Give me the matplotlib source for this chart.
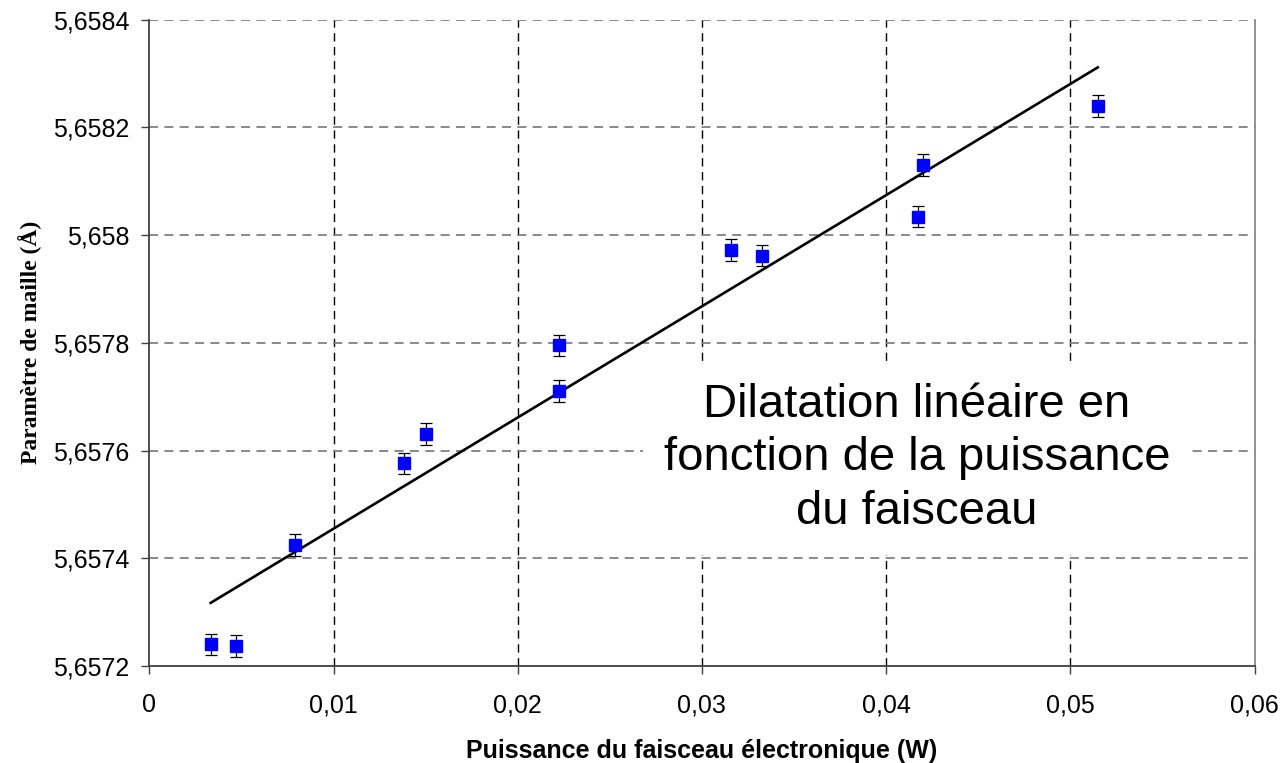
import numpy as np
import matplotlib
matplotlib.use('Agg')
import matplotlib.pyplot as plt

# puissance du faisceau (W) / parametre de maille (A)
power = [0.00333, 0.00469, 0.00791, 0.01384, 0.01501, 0.02224, 0.02224,
         0.03158, 0.03325, 0.04172, 0.04200, 0.05149]
lattice = [5.657240, 5.657237, 5.657425, 5.657576, 5.657631, 5.657795, 5.657711,
           5.657972, 5.657962, 5.658034, 5.658130, 5.658240]
err = [0.00002] * 12

xticks = [0, 0.01, 0.02, 0.03, 0.04, 0.05, 0.06]
xticklabels = ['0', '0,01', '0,02', '0,03', '0,04', '0,05', '0,06']
yticks = [5.6572, 5.6574, 5.6576, 5.6578, 5.658, 5.6582, 5.6584]
yticklabels = ['5,6572', '5,6574', '5,6576', '5,6578', '5,658', '5,6582', '5,6584']

plt.rcParams['font.family'] = ['Liberation Sans', 'DejaVu Sans']

fig = plt.figure(figsize=(12.83, 7.63), dpi=100)
ax = fig.add_axes([0.1164, 0.1271, 0.8614, 0.8473])

# grille style Excel
for xv in xticks[1:-1]:
    ax.axvline(xv, color='black', lw=1.0, ls=(0, (6, 4)), zorder=0)
for yv in yticks[1:]:
    ax.axhline(yv, color='#808080', lw=1.3, ls=(0, (5, 3.5)), zorder=0)

# droite de regression
a, b = np.polyfit(power, lattice, 1)
xf = np.array([min(power), max(power)])
ax.plot(xf, a * xf + b, color='black', lw=1.9, zorder=2)

ax.errorbar(power, lattice, yerr=err, fmt='s', color='#0000ff', ms=8.6,
            mec='#0000ff', ecolor='black', elinewidth=0.9, capsize=4.2,
            capthick=0.9, zorder=3)

ax.text(0.04168, 5.657586, 'Dilatation linéaire en\nfonction de la puissance\ndu faisceau',
        ha='center', va='center', fontsize=34, linespacing=1.28, zorder=4,
        bbox=dict(boxstyle='square,pad=0.45', fc='white', ec='none'))

ax.set_xlim(0, 0.06)
ax.set_ylim(5.6572, 5.6584)
ax.set_xticks(xticks)
ax.set_xticklabels(xticklabels)
ax.set_yticks(yticks)
ax.set_yticklabels(yticklabels)
ax.tick_params(axis='both', direction='out', length=5.5, width=1.0,
               color='#404040', labelsize=18)
ax.tick_params(axis='x', pad=14)
ax.tick_params(axis='y', pad=9)

ax.spines['top'].set_visible(False)
ax.spines['right'].set_color('#808080')
ax.spines['right'].set_linewidth(1.2)
for s in ['left', 'bottom']:
    ax.spines[s].set_color('#404040')
    ax.spines[s].set_linewidth(1.3)

ax.set_xlabel('Puissance du faisceau électronique (W)', fontsize=18,
              fontweight='bold', labelpad=16)
ax.set_ylabel('Paramètre de maille (Å)', fontsize=17, fontweight='bold',
              family=['Liberation Serif', 'DejaVu Serif'], labelpad=8)

fig.savefig('out.png', dpi=100)
